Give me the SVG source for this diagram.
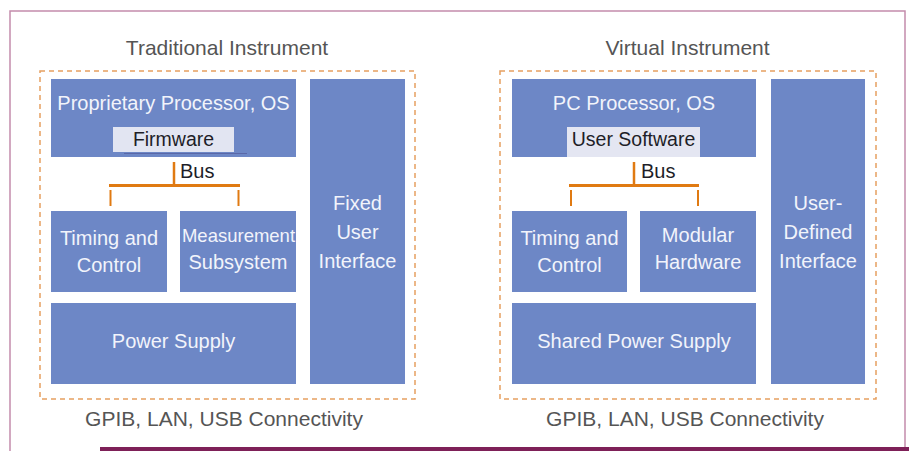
<svg xmlns="http://www.w3.org/2000/svg" width="909" height="451" viewBox="0 0 909 451">
<style>
.blk{fill:#6d87c6}
.lt{fill:#f2f4fb;font-family:"Liberation Sans",Arial,sans-serif;font-size:20px;text-anchor:middle}
.dk{fill:#1e1e28;font-family:"Liberation Sans",Arial,sans-serif;font-size:19.5px;text-anchor:middle}
.ttl{fill:#555;font-family:"Liberation Sans",Arial,sans-serif;font-size:21px;text-anchor:middle}
.dash{fill:none;stroke:#e6a060;stroke-width:1.5;stroke-dasharray:5 4}
.bus{stroke:#e07a12;fill:none}
.frame{fill:none;stroke:#c48cac;stroke-width:1.5}
</style>
<rect width="909" height="451" fill="#ffffff"/>
<polyline class="frame" points="10,451 10,11 905,11 905,447"/>
<rect x="100" y="447" width="809" height="4" fill="#7e2058"/>

<g id="traditional">
<text class="ttl" x="227" y="55">Traditional Instrument</text>
<rect class="dash" x="40" y="71" width="375" height="328"/>
<g id="prop-proc"><rect class="blk" x="51" y="79" width="245" height="78"/><text class="lt" x="173.5" y="110">Proprietary Processor, OS</text></g>
<g id="firmware"><rect x="113" y="127" width="121" height="25" fill="#e2e5f2"/><line x1="124" y1="153.5" x2="247" y2="153.5" stroke="#5a68a8" stroke-width="1.2"/><text class="dk" x="173.5" y="146">Firmware</text></g>
<g id="fixed-ui"><rect class="blk" x="310" y="79" width="95" height="305"/><text class="lt" x="357.5" y="210">Fixed</text><text class="lt" x="357.5" y="239">User</text><text class="lt" x="357.5" y="268">Interface</text></g>
<g id="timing-l"><rect class="blk" x="51" y="211" width="116" height="81"/><text class="lt" x="109" y="245">Timing and</text><text class="lt" x="109" y="272">Control</text></g>
<g id="meas"><rect class="blk" x="180" y="211" width="116" height="81"/><text class="lt" x="238.5" y="242" style="font-size:18.5px">Measurement</text><text class="lt" x="238" y="269">Subsystem</text></g>
<g id="power-l"><rect class="blk" x="51" y="303" width="245" height="81"/><text class="lt" x="173.5" y="348">Power Supply</text></g>
<text class="ttl" x="224" y="426">GPIB, LAN, USB Connectivity</text>
</g>

<g id="virtual">
<text class="ttl" x="687.5" y="55">Virtual Instrument</text>
<rect class="dash" x="500" y="71" width="376" height="328"/>
<g id="pc-proc"><rect class="blk" x="512" y="79" width="244" height="78"/><text class="lt" x="634" y="110">PC Processor, OS</text></g>
<g id="user-sw"><rect x="567" y="127" width="133" height="30" fill="#e4e6f2"/><text class="dk" x="633.5" y="146">User Software</text></g>
<g id="user-ui"><rect class="blk" x="771" y="79" width="94" height="305"/><text class="lt" x="818" y="210">User-</text><text class="lt" x="818" y="239">Defined</text><text class="lt" x="818" y="268">Interface</text></g>
<g id="timing-r"><rect class="blk" x="512" y="211" width="115" height="81"/><text class="lt" x="569.5" y="245">Timing and</text><text class="lt" x="569.5" y="272">Control</text></g>
<g id="modular"><rect class="blk" x="640" y="211" width="116" height="81"/><text class="lt" x="698" y="242">Modular</text><text class="lt" x="698" y="269">Hardware</text></g>
<g id="power-r"><rect class="blk" x="512" y="303" width="244" height="81"/><text class="lt" x="634" y="348">Shared Power Supply</text></g>
<text class="ttl" x="685" y="426">GPIB, LAN, USB Connectivity</text>
</g>

<g id="connectors">
<line class="bus" x1="174" y1="162" x2="174" y2="184" stroke-width="2.5"/>
<line class="bus" x1="109" y1="185.5" x2="240" y2="185.5" stroke-width="3"/>
<line class="bus" x1="110.5" y1="190" x2="110.5" y2="206" stroke-width="2"/>
<line class="bus" x1="238.5" y1="190" x2="238.5" y2="206" stroke-width="2"/>
<text class="dk" x="180" y="178" style="text-anchor:start;font-size:20px">Bus</text>
<line class="bus" x1="634" y1="162" x2="634" y2="184" stroke-width="2.5"/>
<line class="bus" x1="569" y1="185.5" x2="699" y2="185.5" stroke-width="3"/>
<line class="bus" x1="571" y1="190" x2="571" y2="206" stroke-width="2"/>
<line class="bus" x1="698" y1="190" x2="698" y2="206" stroke-width="2"/>
<text class="dk" x="641" y="178" style="text-anchor:start;font-size:20px">Bus</text>
</g>
</svg>
